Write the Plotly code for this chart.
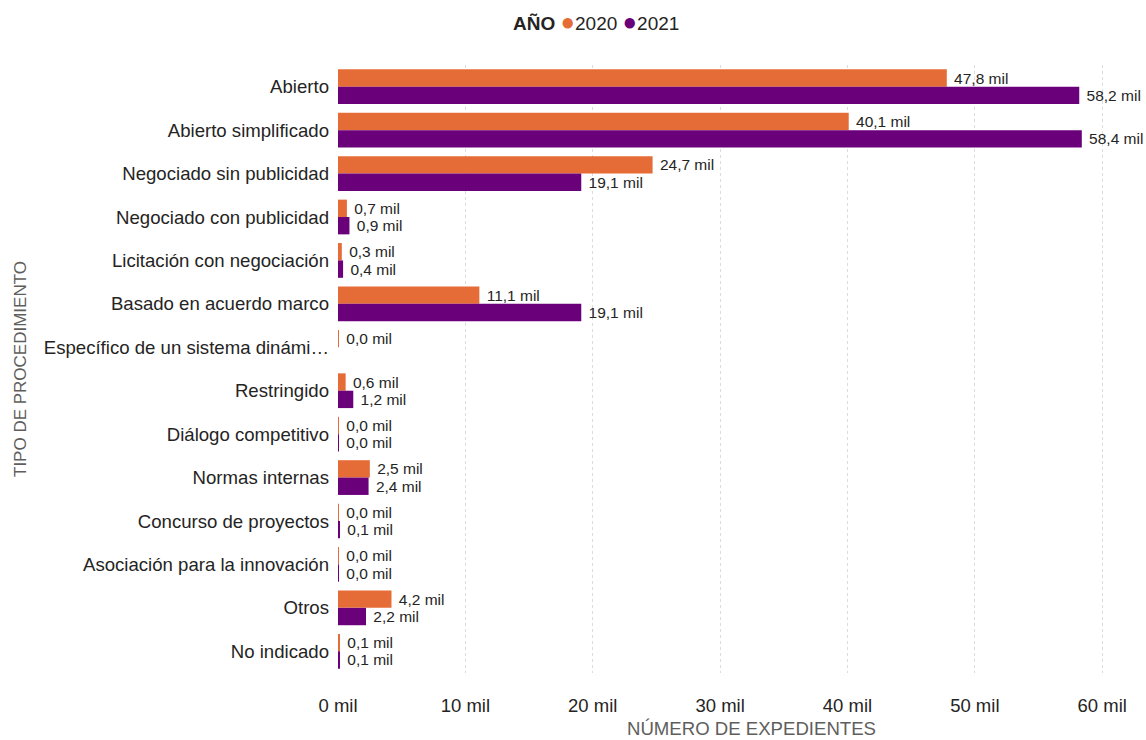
import plotly.graph_objects as go

categories = [
    "Abierto", "Abierto simplificado", "Negociado sin publicidad",
    "Negociado con publicidad", "Licitación con negociación",
    "Basado en acuerdo marco", "Específico de un sistema dinámi…",
    "Restringido", "Diálogo competitivo", "Normas internas",
    "Concurso de proyectos", "Asociación para la innovación",
    "Otros", "No indicado",
]
# values in thousands of expedientes
values_2020 = [47.8, 40.1, 24.7, 0.7, 0.3, 11.1, 0.02, 0.6, 0.02, 2.5, 0.02, 0.02, 4.2, 0.1]
values_2021 = [58.2, 58.4, 19.1, 0.9, 0.4, 19.1, None, 1.2, 0.02, 2.4, 0.1, 0.02, 2.2, 0.1]
x_ticks = [0, 10, 20, 30, 40, 50, 60]
x_tick_labels = [f"{t} mil" for t in x_ticks]
series = [("2020", values_2020, "#E66C37"), ("2021", values_2021, "#6B007B")]


def fmt(v):
    if v is None:
        return ""
    return " " + f"{v:.1f}".replace(".", ",") + " mil"


FONT = "Liberation Sans, Arial, sans-serif"
fig = go.Figure()
for name, vals, color in series:
    fig.add_trace(go.Bar(
        y=categories, x=vals, name=name, orientation="h",
        marker=dict(color=color, line_width=0), text=[fmt(v) for v in vals],
        textposition="outside", cliponaxis=False, showlegend=False,
        textfont=dict(size=15.5, color="#252423", family=FONT),
    ))

legend_text = "<b>AÑO</b> " + "".join(
    f"<span style='color:{c};font-size:24px'>●</span>{n} " for n, _, c in series
).rstrip()

W, H = 1146, 740
L, R, T, B = 338, 40, 65, 67
PW, PH = W - L - R, H - T - B

fig.update_layout(
    width=W, height=H,
    barmode="group", bargap=0.2, bargroupgap=0,
    paper_bgcolor="white", plot_bgcolor="white",
    font=dict(family=FONT, size=18.6, color="#252423"),
    margin=dict(l=L, r=R, t=T, b=B, autoexpand=False),
    showlegend=False,
    xaxis=dict(
        range=[0, 60.3], tickvals=x_ticks, ticktext=x_tick_labels,
        showgrid=True, gridcolor="#DEDCDA", griddash="dot", gridwidth=1,
        zeroline=False, showline=False, automargin=False,
        ticklabelstandoff=19,
        tickfont=dict(size=18.5, color="#252423"),
    ),
    yaxis=dict(
        autorange="reversed", showgrid=False, zeroline=False, automargin=False,
        tickfont=dict(size=18.6, color="#252423"), ticklabelstandoff=8,
    ),
    annotations=[
        dict(text=legend_text, xref="paper", yref="paper",
             x=(596 - L) / PW, y=1 + (T - 22) / PH, xanchor="center", yanchor="middle",
             showarrow=False, font=dict(size=19, color="#252423", family=FONT)),
        dict(text="TIPO DE PROCEDIMIENTO", xref="paper", yref="paper",
             x=(20 - L) / PW, y=0.5, xanchor="center", yanchor="middle",
             textangle=-90, showarrow=False,
             font=dict(size=17, color="#605E5C", family=FONT)),
        dict(text="NÚMERO DE EXPEDIENTES", xref="paper", yref="paper",
             x=(751 - L) / PW, y=-(728 - (H - B)) / PH, xanchor="center", yanchor="middle",
             showarrow=False, font=dict(size=18.6, color="#605E5C", family=FONT)),
    ],
)
fig.write_html("out.html", post_script="document.body.style.margin='0';",
               config={"displayModeBar": False})
